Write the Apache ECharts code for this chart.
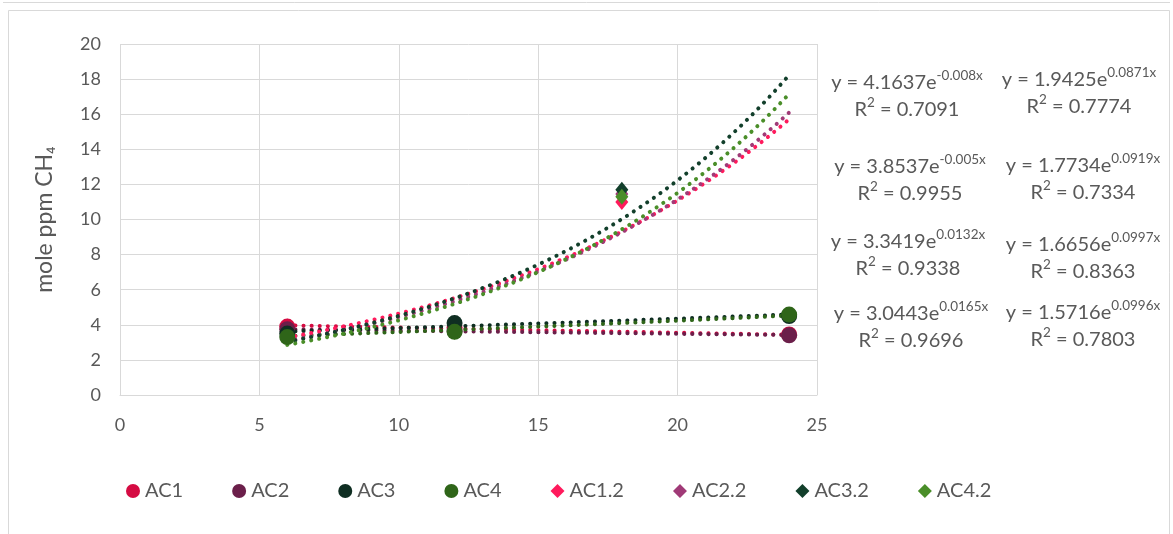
<!DOCTYPE html>
<html>
<head>
<meta charset="utf-8">
<script src="https://cdn.jsdelivr.net/npm/echarts@6/dist/echarts.min.js"></script>
<style>
html,body{margin:0;padding:0;background:#fff;}
#c{width:1173px;height:534px;}
</style>
</head>
<body>
<div id="c"></div>
<script>
// ---- data ----
const seriesNames = ['AC1','AC2','AC3','AC4','AC1.2','AC2.2','AC3.2','AC4.2'];
const circleX = [6, 12, 24];
const diamondX = [6, 12, 18];
const AC1 = [3.9, 3.85, 3.45];
const AC2 = [3.75, 3.65, 3.4];
const AC3 = [3.5, 4.1, 4.5];
const AC4 = [3.3, 3.6, 4.58];
const AC1_2 = [3.9, 3.85, 11.0];
const AC2_2 = [3.7, 3.75, 11.45];
const AC3_2 = [3.5, 4.1, 11.7];
const AC4_2 = [3.3, 3.6, 11.3];
// trendline coefficients (y = a * e^(b x)) as printed on the chart
const trendA = [4.1637, 3.8537, 3.3419, 3.0443, 1.9425, 1.7734, 1.6656, 1.5716];
const trendB = [-0.008, -0.005, 0.0132, 0.0165, 0.0871, 0.0919, 0.0997, 0.0996];
const trendR2 = ['0.7091','0.9955','0.9338','0.9696','0.7774','0.7334','0.8363','0.7803'];
const trendAText = ['4.1637','3.8537','3.3419','3.0443','1.9425','1.7734','1.6656','1.5716'];
const trendBText = ['-0.008','-0.005','0.0132','0.0165','0.0871','0.0919','0.0997','0.0996'];
const xTicks = [0, 5, 10, 15, 20, 25];
const yTicks = [0, 2, 4, 6, 8, 10, 12, 14, 16, 18, 20];

const colors = ['#D50B42','#6B1F4A','#0F2E22','#2F6519','#FF1A5C','#A03A77','#123F2B','#4A8E29'];
const values = [AC1, AC2, AC3, AC4, AC1_2, AC2_2, AC3_2, AC4_2];

const chart = echarts.init(document.getElementById('c'), null, {renderer:'canvas'});
const FONT = 'Lato, "Liberation Sans", sans-serif';
const GREY = '#595959';

const series = [];
for (let i = 0; i < 8; i++) {
  const pts = [];
  for (let x = 6; x <= 24.0001; x += 0.25) {
    pts.push([x, trendA[i] * Math.exp(trendB[i] * x)]);
  }
  series.push({
    type: 'line', name: seriesNames[i] + ' trend', data: pts, showSymbol: false, symbol: 'none',
    silent: true, z: 2,
    lineStyle: { color: colors[i], width: 4, type: [0.1, 8], cap: 'round' }
  });
}
for (let i = 4; i < 8; i++) {
  series.push({
    type: 'scatter', name: seriesNames[i], symbol: 'diamond', symbolSize: [13, 16], z: 3,
    itemStyle: { color: colors[i], opacity: 1 },
    data: diamondX.map((x, k) => [x, values[i][k]])
  });
}
for (let i = 0; i < 4; i++) {
  series.push({
    type: 'scatter', name: seriesNames[i], symbol: 'circle', symbolSize: 16, z: 4,
    itemStyle: { color: colors[i], opacity: 1 },
    data: circleX.map((x, k) => [x, values[i][k]])
  });
}

const eqPos = [
  [907, 69], [910, 153], [908, 228], [911, 300],
  [1079, 66], [1083, 152], [1083, 231], [1083, 299]
];
const graphics = [
  { type: 'line', shape: { x1: 3, y1: 2.5, x2: 1170, y2: 2.5 }, style: { stroke: '#D9D9D9', lineWidth: 1 }, silent: true },
  { type: 'rect', shape: { x: 8.5, y: 10.5, width: 1161, height: 540 }, style: { fill: 'none', stroke: '#D9D9D9', lineWidth: 1 }, silent: true }
];
for (let i = 0; i < 8; i++) {
  graphics.push({
    type: 'text', x: eqPos[i][0], y: eqPos[i][1], silent: true,
    style: {
      text: '{b|y = ' + trendAText[i] + 'e}{s|' + trendBText[i] + 'x}\n{b|R}{s|2}{b| = ' + trendR2[i] + '}',
      align: 'center', verticalAlign: 'top', fill: GREY, fontFamily: FONT,
      rich: {
        b: { fontSize: 20, lineHeight: 27, fontFamily: FONT, fill: GREY },
        s: { fontSize: 13.5, lineHeight: 15, verticalAlign: 'top', fontFamily: FONT, fill: GREY }
      }
    }
  });
}

chart.setOption({
  backgroundColor: '#fff',
  animation: false,
  textStyle: { fontFamily: FONT },
  grid: { left: 120, top: 44, width: 697, height: 351, containLabel: false },
  xAxis: {
    type: 'value', min: 0, max: 25, interval: 5,
    axisLine: { show: true, onZero: false, lineStyle: { color: '#D9D9D9', width: 1 } },
    axisTick: { show: false },
    splitLine: { show: true, lineStyle: { color: '#D9D9D9', width: 1 } },
    axisLabel: { color: GREY, fontSize: 18, margin: 21, fontFamily: FONT,
      formatter: v => xTicks.includes(v) ? String(v) : '' }
  },
  yAxis: {
    type: 'value', min: 0, max: 20, interval: 2,
    name: 'mole ppm CH₄', nameLocation: 'middle', nameGap: 64, nameRotate: 90,
    nameTextStyle: { color: GREY, fontSize: 23, fontFamily: FONT },
    axisLine: { show: false },
    axisTick: { show: false },
    splitLine: { show: true, lineStyle: { color: '#D9D9D9', width: 1 } },
    axisLabel: { color: GREY, fontSize: 18, margin: 19, fontFamily: FONT,
      formatter: v => yTicks.includes(v) ? String(v) : '' }
  },
  legend: {
    data: seriesNames.map((n, i) => ({ name: n, icon: i < 4 ? 'circle' : 'diamond' })),
    left: 121, top: 476, itemWidth: 14, itemHeight: 14, itemGap: 49,
    textStyle: { color: GREY, fontSize: 20, fontFamily: FONT },
    selectedMode: false
  },
  series: series,
  graphic: graphics
});
</script>
</body>
</html>
